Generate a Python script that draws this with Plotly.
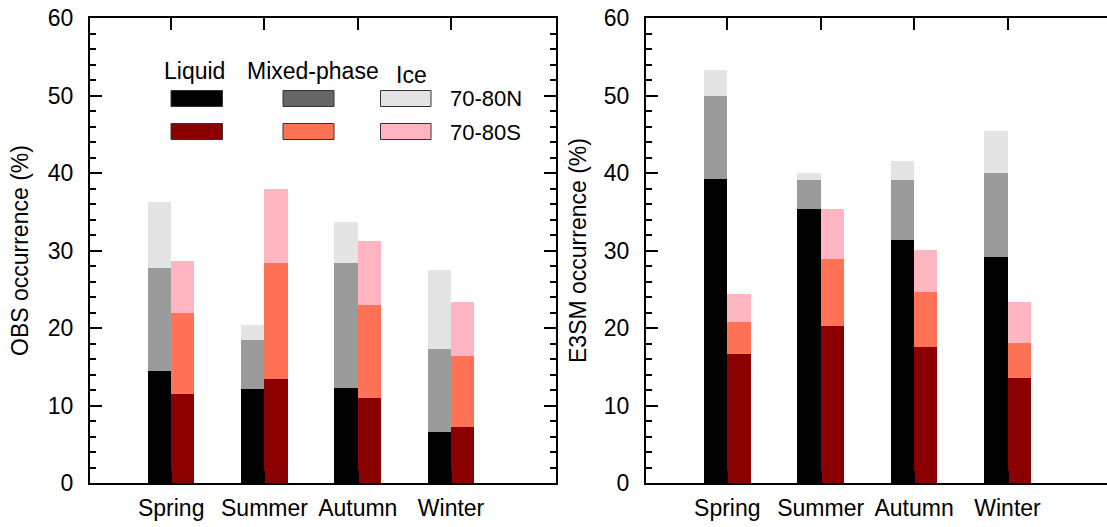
import plotly.graph_objects as go

# ---------------- data (cumulative top of each layer, %) ----------------
seasons = ["Spring", "Summer", "Autumn", "Winter"]
season_pos = [1, 2, 3, 4]

obs_n_liquid = [14.4, 12.1, 12.3, 6.6]
obs_n_mixed = [27.8, 18.5, 28.4, 17.3]
obs_n_ice = [36.2, 20.4, 33.7, 27.5]
obs_s_liquid = [11.5, 13.4, 11.0, 7.25]
obs_s_mixed = [21.9, 28.4, 23.0, 16.4]
obs_s_ice = [28.7, 37.9, 31.2, 23.3]

e3sm_n_liquid = [39.2, 35.3, 31.3, 29.1]
e3sm_n_mixed = [50.0, 39.1, 39.1, 40.0]
e3sm_n_ice = [53.3, 40.0, 41.6, 45.4]
e3sm_s_liquid = [16.6, 20.2, 17.5, 13.5]
e3sm_s_mixed = [20.8, 28.9, 24.7, 18.1]
e3sm_s_ice = [24.4, 35.4, 30.1, 23.4]

# ---------------- styles ----------------
W, H = 1107, 527
FONT = "Liberation Sans, Arial, Helvetica, sans-serif"
col_n = {"liquid": "#000000", "mixed": "#9b9b9b", "ice": "#e4e4e4"}
col_s = {"liquid": "#8b0000", "mixed": "#ff7256", "ice": "#ffb6c1"}
leg_n = {"liquid": "#000000", "mixed": "#666666", "ice": "#e3e3e3"}
leg_s = {"liquid": "#8b0000", "mixed": "#ff7256", "ice": "#ffb6c1"}


def px(x):
    return x / W


def py(y):
    return 1 - y / H


fig = go.Figure()

panels = [
    ("x", "y", (obs_n_ice, obs_n_mixed, obs_n_liquid), (obs_s_ice, obs_s_mixed, obs_s_liquid)),
    ("x2", "y2", (e3sm_n_ice, e3sm_n_mixed, e3sm_n_liquid), (e3sm_s_ice, e3sm_s_mixed, e3sm_s_liquid)),
]
layers = ["ice", "mixed", "liquid"]
for xa, ya, nvals, svals in panels:
    for name, vals in zip(layers, nvals):
        fig.add_trace(go.Bar(x=season_pos, y=vals, width=0.25, offset=-0.25,
                             marker=dict(color=col_n[name], line=dict(width=0)),
                             xaxis=xa, yaxis=ya, showlegend=False, hoverinfo="y"))
    for name, vals in zip(layers, svals):
        fig.add_trace(go.Bar(x=season_pos, y=vals, width=0.25, offset=0.0,
                             marker=dict(color=col_s[name], line=dict(width=0)),
                             xaxis=xa, yaxis=ya, showlegend=False, hoverinfo="y"))

axis_common = dict(showline=True, linecolor="black", linewidth=2, mirror="ticks",
                   ticks="inside", ticklen=12, tickwidth=2, tickcolor="black",
                   showgrid=False, zeroline=False, automargin=False)

xcommon = dict(axis_common, tickvals=season_pos, ticktext=seasons,
               tickfont=dict(family=FONT, size=23, color="black"), ticklabelstandoff=3)
ycommon = dict(axis_common, range=[0, 60], dtick=10, tick0=0,
               tickfont=dict(family=FONT, size=23, color="black"), ticklabelstandoff=10,
               minor=dict(dtick=2, tick0=0, ticks="inside", ticklen=6, tickwidth=1.5,
                          tickcolor="black", showgrid=False))

ydom = [py(483), py(18)]
fig.update_layout(
    width=W, height=H,
    margin=dict(l=0, r=0, t=0, b=0, autoexpand=False),
    paper_bgcolor="white", plot_bgcolor="white",
    barmode="overlay", bargap=0,
    showlegend=False,
    font=dict(family=FONT, color="black"),
    xaxis=dict(xcommon, domain=[px(90), px(556)], range=[0.13, 5.125], anchor="y"),
    yaxis=dict(ycommon, domain=ydom, anchor="x"),
    xaxis2=dict(xcommon, domain=[px(646), 1.0], range=[0.13, 5.065], anchor="y2"),
    # right border of the second panel lies just outside the picture
    yaxis2=dict(ycommon, domain=ydom, anchor="x2", mirror=False),
)

annotations = [
    dict(text="OBS occurrence (%)", x=px(20), y=py(251), textangle=-90),
    dict(text="E3SM occurrence (%)", x=px(578), y=py(251), textangle=-90),
    dict(text="Liquid", x=px(195), y=py(71)),
    dict(text="Mixed-phase", x=px(313), y=py(71)),
    dict(text="Ice", x=px(411), y=py(75)),
    dict(text="70-80N", x=px(448), y=py(98.5), xanchor="left", size=22),
    dict(text="70-80S", x=px(448), y=py(132.5), xanchor="left", size=22),
]
for a in annotations:
    size = a.pop("size", 23)
    fig.add_annotation(xref="paper", yref="paper", showarrow=False,
                       xanchor=a.pop("xanchor", "center"), yanchor="middle",
                       font=dict(family=FONT, size=size, color="black"), **a)

# legend swatches (pixel boxes converted to paper coords)
swatch_cols = [(171, 222.5), (283, 334), (380.5, 431)]
swatch_rows = [(90.5, 106.5), (123.5, 139.5)]
for (x0, x1), name in zip(swatch_cols, ["liquid", "mixed", "ice"]):
    for (y0, y1), cmap in zip(swatch_rows, [leg_n, leg_s]):
        fig.add_shape(type="rect", xref="paper", yref="paper",
                      x0=px(x0), x1=px(x1), y0=py(y1), y1=py(y0),
                      fillcolor=cmap[name], line=dict(color="#333333", width=1))

fig.write_html("out.html")
